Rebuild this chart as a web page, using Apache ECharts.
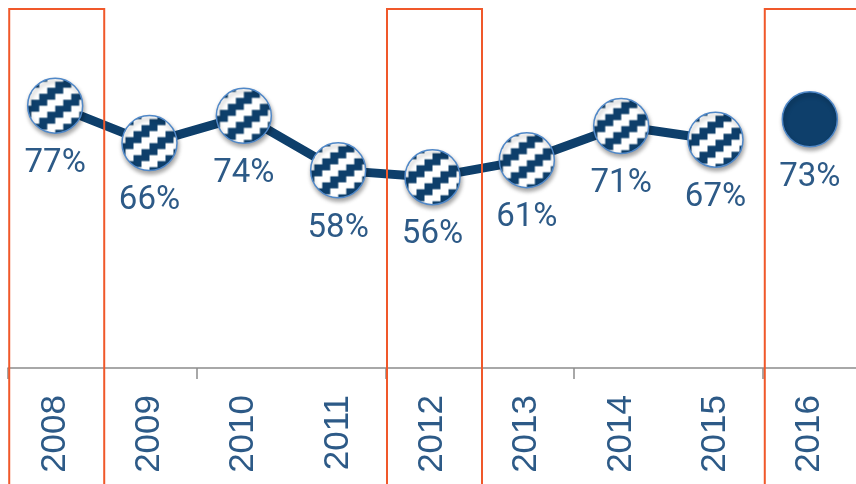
<!DOCTYPE html>
<html>
<head>
<meta charset="utf-8">
<script src="https://cdn.jsdelivr.net/npm/echarts@6/dist/echarts.min.js"></script>
<style>
html,body{margin:0;padding:0;background:#fff;}
#chart{width:856px;height:484px;}
</style>
</head>
<body>
<div id="chart"></div>
<script>
// ---- data ----
var years = ['2008', '2009', '2010', '2011', '2012', '2013', '2014', '2015', '2016'];
var trendValues = [77, 66, 74, 58, 56, 61, 71, 67, null];
var currentValues = [null, null, null, null, null, null, null, null, 73];
var highlightedYears = ['2008', '2012', '2016'];

// ---- styles ----
var NAVY = '#0e3f6b';
var TEXT = '#2d5a87';
var ORANGE = '#f0582a';
var BORDER = '#5088c8';
var SYMBOL_SIZE = 55;

function makePattern() {
  var c = document.createElement('canvas');
  c.width = 16; c.height = 12;
  var ctx = c.getContext('2d');
  ctx.fillStyle = '#ffffff';
  ctx.fillRect(0, 0, 16, 12);
  ctx.fillStyle = NAVY;
  for (var x = 0; x < 16; x++) {
    for (var y = 0; y < 12; y++) {
      var v = (y + Math.floor(x / 4) * 3) % 12;
      if (v < 6) ctx.fillRect(x, y, 1, 1);
    }
  }
  return c;
}

var boxData = years.map(function (y) { return highlightedYears.indexOf(y) >= 0 ? 1 : '-'; });
var toSeries = function (arr) { return arr.map(function (v) { return v == null ? '-' : v; }); };

var chart = echarts.init(document.getElementById('chart'), null, {renderer: 'canvas'});

var markerStyle = {
  borderColor: BORDER,
  borderWidth: 1.5,
  shadowBlur: 4,
  shadowColor: 'rgba(0,0,0,0.35)',
  shadowOffsetX: 1,
  shadowOffsetY: 3
};

var labelStyle = {
  show: true,
  position: 'inside',
  offset: [0, 58],
  color: TEXT,
  fontFamily: 'Roboto, "Liberation Sans", sans-serif',
  fontSize: 33,
  formatter: function (p) { return p.value + '%'; }
};

var patternScale = 4 / SYMBOL_SIZE;

chart.setOption({
  animation: false,
  backgroundColor: '#ffffff',
  grid: [
    {left: 8, right: -1, top: 0, bottom: 116, outerBoundsMode: 'none', containLabel: false},
    {left: 9.5, right: -3.5, top: 8, bottom: -60, outerBoundsMode: 'none', containLabel: false}
  ],
  xAxis: [
    {
      type: 'category',
      gridIndex: 0,
      data: years,
      boundaryGap: true,
      axisLine: {show: true, lineStyle: {color: '#8c8c8c', width: 1.5}},
      axisTick: {show: true, interval: 1, length: 11, lineStyle: {color: '#8c8c8c', width: 1.5}},
      axisLabel: {
        interval: 0,
        rotate: 90,
        margin: 27,
        color: TEXT,
        fontFamily: '"Liberation Sans", Arial, sans-serif',
        fontSize: 35
      }
    },
    {
      type: 'category',
      gridIndex: 1,
      data: years,
      show: false
    }
  ],
  yAxis: [
    {type: 'value', gridIndex: 0, min: 0, max: 108, show: false},
    {type: 'value', gridIndex: 1, min: 0, max: 1, show: false}
  ],
  series: [
    {
      type: 'bar',
      xAxisIndex: 1,
      yAxisIndex: 1,
      data: boxData,
      barWidth: 97,
      z: 5,
      silent: true,
      clip: false,
      itemStyle: {color: 'rgba(0,0,0,0)', borderColor: ORANGE, borderWidth: 2}
    },
    {
      type: 'line',
      xAxisIndex: 0,
      yAxisIndex: 0,
      data: toSeries(trendValues),
      symbol: 'circle',
      symbolSize: SYMBOL_SIZE,
      z: 3,
      lineStyle: {color: NAVY, width: 9},
      itemStyle: Object.assign({
        color: {image: makePattern(), repeat: 'repeat', scaleX: patternScale, scaleY: patternScale}
      }, markerStyle),
      label: labelStyle
    },
    {
      type: 'line',
      xAxisIndex: 0,
      yAxisIndex: 0,
      data: toSeries(currentValues),
      symbol: 'circle',
      symbolSize: SYMBOL_SIZE,
      z: 3,
      lineStyle: {color: NAVY, width: 9},
      itemStyle: Object.assign({color: NAVY}, markerStyle),
      label: labelStyle
    }
  ]
});
</script>
</body>
</html>
